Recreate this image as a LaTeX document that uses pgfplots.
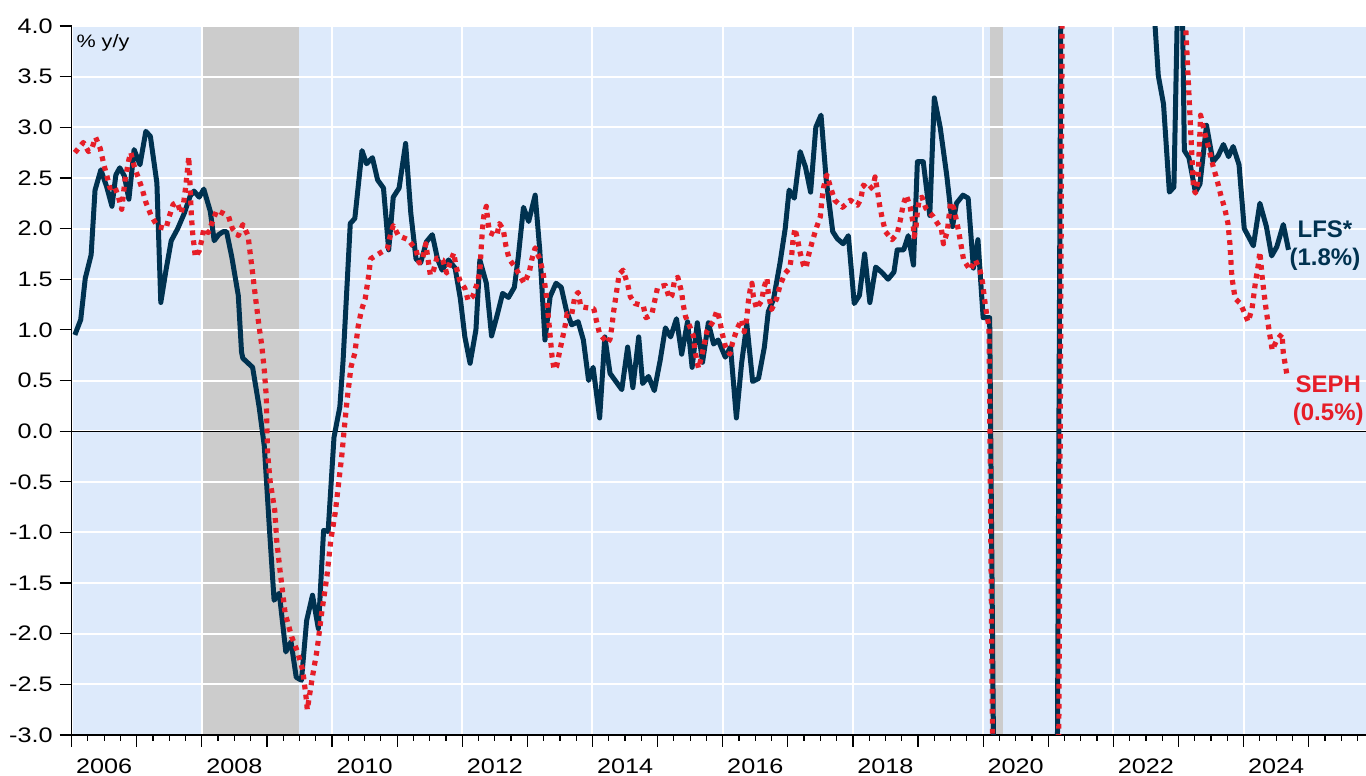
\documentclass[border=0pt]{standalone}
\usepackage{fontspec}
\setmainfont{Liberation Sans}
\usepackage{graphicx}
\usepackage{pgfplots}
\pgfplotsset{compat=1.18}
\definecolor{bgblue}{RGB}{221,234,251}
\definecolor{recgray}{RGB}{204,204,204}
\definecolor{navy}{RGB}{0,50,80}
\definecolor{sephred}{RGB}{230,30,40}
\newcommand{\sx}{1.2}
\begin{document}
\begin{tikzpicture}
\begin{axis}[
  set layers,
  scale only axis, width=647.2pt, height=354.5pt,
  xmin=2006, xmax=2025.88, ymin=-3, ymax=4,
  axis x line*=bottom, axis y line*=left,
  axis line style={black, line width=0.9pt},
  clip mode=individual,
  xtick={2006,2008,...,2024},
  minor xtick={2006,2006.25,...,2025.8},
  extra x ticks={2007,2009,...,2025},
  extra x tick labels={},
  extra x tick style={grid=none},
  ytick={-3,-2.5,...,4},
  xmajorgrids, ymajorgrids,
  major grid style={white, line width=1pt},
  tick align=outside,
  major tick length=6pt, minor tick length=3pt,
  tick style={black, line width=0.6pt},
  /pgf/number format/assume math mode=true,
  tick label style={font=\fontsize{10.5}{12}\selectfont, text=black},
  xticklabel={\scalebox{\sx}[1]{\pgfmathprintnumber[int detect,1000 sep={}]{\tick}}},
  yticklabel={\scalebox{\sx}[1]{\pgfmathprintnumber[fixed,fixed zerofill,precision=1]{\tick}}},
  xticklabel style={xshift=16.28pt, yshift=-2.5pt},
]
% background and recession shading
\addplot[on layer=axis background, draw=none, fill=bgblue] coordinates {(2006,-3) (2006,4) (2025.88,4) (2025.88,-3)} -- cycle;
\addplot[on layer=axis background, draw=none, fill=recgray] coordinates {(2008.0,-3) (2008.0,4) (2009.49,4) (2009.49,-3)} -- cycle;
\addplot[on layer=axis background, draw=none, fill=recgray] coordinates {(2020.10,-3) (2020.10,4) (2020.30,4) (2020.30,-3)} -- cycle;
\draw[black, line width=0.6pt] (axis cs:2006,0) -- (axis cs:2025.88,0);

% LFS*
\addplot[navy, line width=2.5pt, line join=round] coordinates {
(2006.05,0.95) (2006.14,1.10) (2006.21,1.51) (2006.30,1.74) (2006.36,2.38) (2006.45,2.58)
(2006.54,2.41) (2006.62,2.22) (2006.68,2.53) (2006.74,2.60) (2006.81,2.52) (2006.88,2.29)
(2006.96,2.78) (2007.05,2.63) (2007.14,2.96) (2007.21,2.91) (2007.31,2.45) (2007.37,1.27)
(2007.45,1.59) (2007.53,1.88) (2007.63,2.00) (2007.73,2.15) (2007.82,2.32) (2007.88,2.37)
(2007.96,2.31) (2008.03,2.39) (2008.13,2.17) (2008.19,1.88) (2008.26,1.94) (2008.33,1.97)
(2008.38,1.97) (2008.46,1.72) (2008.56,1.34) (2008.61,0.78) (2008.63,0.72) (2008.78,0.63)
(2008.88,0.24) (2008.96,-0.15) (2009.04,-0.98) (2009.11,-1.67) (2009.19,-1.60) (2009.29,-2.18)
(2009.37,-2.08) (2009.45,-2.43) (2009.53,-2.46) (2009.61,-1.87) (2009.70,-1.62) (2009.79,-1.95)
(2009.87,-0.98) (2009.94,-0.99) (2010.03,-0.06) (2010.12,0.24) (2010.17,0.70) (2010.28,2.05)
(2010.35,2.10) (2010.46,2.77) (2010.53,2.64) (2010.62,2.70) (2010.70,2.48) (2010.79,2.40)
(2010.87,1.79) (2010.94,2.31) (2011.03,2.40) (2011.13,2.84) (2011.21,2.15) (2011.29,1.70)
(2011.36,1.66) (2011.45,1.87) (2011.54,1.94) (2011.62,1.70) (2011.69,1.59) (2011.79,1.69)
(2011.89,1.61) (2011.97,1.31) (2012.04,0.93) (2012.12,0.67) (2012.21,1.00) (2012.27,1.69)
(2012.37,1.46) (2012.45,0.94) (2012.53,1.13) (2012.62,1.36) (2012.71,1.32) (2012.80,1.42)
(2012.86,1.72) (2012.94,2.21) (2013.02,2.07) (2013.12,2.33) (2013.19,1.79) (2013.27,0.90)
(2013.35,1.33) (2013.44,1.46) (2013.52,1.42) (2013.60,1.19) (2013.68,1.05) (2013.78,1.08)
(2013.86,0.90) (2013.94,0.50) (2014.01,0.63) (2014.11,0.13) (2014.19,0.93) (2014.27,0.57)
(2014.36,0.49) (2014.45,0.41) (2014.54,0.83) (2014.62,0.43) (2014.71,0.93) (2014.77,0.47)
(2014.86,0.54) (2014.95,0.40) (2015.04,0.70) (2015.12,1.02) (2015.20,0.93) (2015.29,1.11)
(2015.37,0.76) (2015.46,1.08) (2015.53,0.63) (2015.61,1.07) (2015.69,0.68) (2015.78,1.07)
(2015.86,0.86) (2015.93,0.90) (2016.04,0.73) (2016.12,0.83) (2016.21,0.13) (2016.29,0.67)
(2016.37,1.06) (2016.46,0.49) (2016.55,0.52) (2016.64,0.83) (2016.70,1.18) (2016.78,1.30)
(2016.88,1.66) (2016.96,2.00) (2017.02,2.38) (2017.10,2.30) (2017.19,2.76) (2017.27,2.61)
(2017.35,2.36) (2017.43,3.00) (2017.51,3.12) (2017.59,2.48) (2017.69,1.97) (2017.76,1.90)
(2017.85,1.85) (2017.93,1.93) (2018.02,1.26) (2018.10,1.34) (2018.18,1.75) (2018.26,1.27)
(2018.35,1.62) (2018.44,1.57) (2018.54,1.50) (2018.63,1.57) (2018.68,1.79) (2018.78,1.79)
(2018.85,1.93) (2018.93,1.64) (2018.99,2.66) (2019.08,2.66) (2019.18,2.13) (2019.25,3.29)
(2019.34,3.00) (2019.44,2.53) (2019.53,2.02) (2019.59,2.25) (2019.69,2.33) (2019.77,2.30)
(2019.85,1.61) (2019.92,1.89) (2020.00,1.12) (2020.10,1.12) (2020.18,-4.6) (2020.26,-15.5)
(2020.35,-13.5) (2020.43,-10.0) (2020.52,-8.0) (2020.60,-7.0) (2020.68,-6.0) (2020.77,-5.0)
(2020.85,-4.5) (2020.93,-4.5) (2021.02,-5.0) (2021.12,-6.0) (2021.21,6.5) (2021.29,15.0)
(2021.37,12.0) (2021.46,9.0) (2021.54,7.5) (2021.62,6.5) (2021.71,6.0) (2021.79,5.8)
(2021.87,5.8) (2021.96,5.2) (2022.04,5.0) (2022.12,6.0) (2022.21,5.6) (2022.29,5.2)
(2022.37,4.8) (2022.46,4.6) (2022.58,4.6) (2022.69,3.51) (2022.77,3.23) (2022.86,2.36)
(2022.93,2.41) (2023.00,4.70) (2023.05,4.70) (2023.09,2.77) (2023.16,2.70) (2023.26,2.36)
(2023.33,2.44) (2023.43,3.02) (2023.53,2.66) (2023.61,2.72) (2023.69,2.83) (2023.77,2.71)
(2023.84,2.81) (2023.93,2.63) (2024.01,2.00) (2024.15,1.83) (2024.25,2.25) (2024.35,2.02)
(2024.43,1.73) (2024.51,1.82) (2024.61,2.04) (2024.69,1.79)
};

% SEPH
\addplot[sephred, line width=2.6pt, line join=round, dash pattern=on 2.4pt off 2.6pt] coordinates {
(2006.05,2.75) (2006.18,2.85) (2006.26,2.76) (2006.31,2.79) (2006.37,2.90) (2006.44,2.79)
(2006.50,2.62) (2006.55,2.50) (2006.59,2.40) (2006.66,2.42) (2006.72,2.31) (2006.77,2.19)
(2006.82,2.48) (2006.88,2.68) (2006.91,2.75) (2006.96,2.62) (2007.02,2.51) (2007.08,2.40)
(2007.14,2.26) (2007.22,2.13) (2007.32,2.02) (2007.45,2.00) (2007.50,2.12) (2007.56,2.24)
(2007.62,2.26) (2007.68,2.15) (2007.72,2.25) (2007.75,2.40) (2007.78,2.58) (2007.80,2.71)
(2007.82,2.42) (2007.84,2.12) (2007.86,1.95) (2007.90,1.72) (2007.96,1.78) (2008.00,1.89)
(2008.03,2.00) (2008.10,1.96) (2008.17,2.08) (2008.23,2.18) (2008.33,2.15) (2008.41,2.12)
(2008.47,2.00) (2008.56,1.93) (2008.63,2.04) (2008.71,1.93) (2008.74,1.77) (2008.78,1.56)
(2008.83,1.29) (2008.88,1.03) (2008.92,0.85) (2008.96,0.60) (2008.99,0.34) (2009.01,-0.22)
(2009.05,-0.50) (2009.12,-0.78) (2009.15,-1.08) (2009.20,-1.37) (2009.28,-1.80) (2009.38,-2.03)
(2009.47,-2.18) (2009.55,-2.36) (2009.60,-2.62) (2009.62,-2.75) (2009.69,-2.46) (2009.77,-2.16)
(2009.84,-1.80) (2009.92,-1.44) (2009.98,-1.08) (2010.05,-0.80) (2010.10,-0.52) (2010.15,-0.24)
(2010.19,0.04) (2010.23,0.30) (2010.29,0.63) (2010.35,0.77) (2010.40,1.03) (2010.45,1.19)
(2010.51,1.31) (2010.54,1.44) (2010.57,1.57) (2010.59,1.70) (2010.74,1.76) (2010.85,1.80)
(2010.89,1.92) (2010.94,2.03) (2011.02,1.93) (2011.17,1.89) (2011.29,1.79) (2011.34,1.66)
(2011.39,1.70) (2011.44,1.85) (2011.48,1.67) (2011.51,1.54) (2011.56,1.59) (2011.61,1.71)
(2011.70,1.69) (2011.76,1.56) (2011.81,1.66) (2011.87,1.76) (2011.90,1.64) (2011.96,1.49)
(2012.04,1.41) (2012.09,1.29) (2012.16,1.33) (2012.22,1.44) (2012.27,1.57) (2012.29,1.80)
(2012.31,1.99) (2012.33,2.12) (2012.37,2.22) (2012.39,2.09) (2012.42,1.96) (2012.53,1.93)
(2012.57,2.05) (2012.63,1.99) (2012.67,1.83) (2012.72,1.70) (2012.81,1.62) (2012.88,1.54)
(2012.95,1.46) (2013.03,1.57) (2013.07,1.70) (2013.12,1.81) (2013.19,1.70) (2013.24,1.57)
(2013.27,1.44) (2013.30,1.29) (2013.32,1.14) (2013.34,1.01) (2013.36,0.87) (2013.38,0.73)
(2013.41,0.61) (2013.45,0.64) (2013.49,0.77) (2013.54,0.92) (2013.58,1.04) (2013.61,1.16)
(2013.68,1.15) (2013.73,1.33) (2013.78,1.37) (2013.82,1.23) (2013.90,1.22) (2014.02,1.21)
(2014.06,1.09) (2014.11,0.96) (2014.23,0.87) (2014.27,0.91) (2014.30,1.04) (2014.32,1.16)
(2014.35,1.29) (2014.38,1.42) (2014.41,1.55) (2014.47,1.59) (2014.54,1.45) (2014.58,1.33)
(2014.65,1.26) (2014.78,1.24) (2014.82,1.12) (2014.91,1.15) (2014.96,1.30) (2015.00,1.42)
(2015.12,1.44) (2015.18,1.31) (2015.22,1.34) (2015.26,1.49) (2015.31,1.52) (2015.37,1.37)
(2015.39,1.26) (2015.43,1.13) (2015.49,1.04) (2015.55,0.94) (2015.57,0.81) (2015.61,0.67)
(2015.63,0.62) (2015.68,0.75) (2015.72,0.87) (2015.76,0.99) (2015.86,1.09) (2015.91,1.19)
(2015.95,1.11) (2015.99,0.97) (2016.04,0.84) (2016.11,0.76) (2016.15,0.87) (2016.22,1.01)
(2016.29,1.10) (2016.33,0.98) (2016.37,1.11) (2016.39,1.26) (2016.42,1.39) (2016.45,1.46)
(2016.47,1.33) (2016.52,1.21) (2016.60,1.29) (2016.63,1.41) (2016.68,1.51) (2016.70,1.36)
(2016.75,1.20) (2016.83,1.31) (2016.88,1.44) (2016.96,1.56) (2017.03,1.61) (2017.06,1.74)
(2017.08,1.89) (2017.11,2.00) (2017.15,1.89) (2017.19,1.76) (2017.24,1.64) (2017.28,1.61)
(2017.32,1.74) (2017.37,1.86) (2017.43,1.99) (2017.50,2.12) (2017.52,2.26) (2017.55,2.41)
(2017.60,2.53) (2017.66,2.40) (2017.72,2.28) (2017.84,2.21) (2017.96,2.28) (2018.07,2.23)
(2018.12,2.29) (2018.16,2.43) (2018.24,2.38) (2018.31,2.42) (2018.34,2.51) (2018.38,2.36)
(2018.41,2.23) (2018.45,2.10) (2018.50,1.97) (2018.60,1.89) (2018.68,1.95) (2018.73,2.09)
(2018.77,2.23) (2018.82,2.33) (2018.88,2.21) (2018.92,2.07) (2018.94,1.92) (2018.97,2.02)
(2018.99,2.17) (2019.02,2.29) (2019.06,2.31) (2019.12,2.20) (2019.23,2.12) (2019.36,1.99)
(2019.39,1.85) (2019.45,1.97) (2019.47,2.09) (2019.50,2.26) (2019.55,2.20) (2019.59,2.08)
(2019.63,1.95) (2019.70,1.69) (2019.80,1.59) (2019.88,1.69) (2019.95,1.59) (2019.99,1.47)
(2020.02,1.31) (2020.05,1.17) (2020.09,1.03) (2020.17,-5.0) (2020.25,-16.0) (2020.33,-14.0)
(2020.42,-11.0) (2020.50,-9.0) (2020.58,-7.5) (2020.67,-6.5) (2020.75,-6.0) (2020.83,-5.5)
(2020.92,-5.5) (2021.00,-5.5) (2021.08,-5.8) (2021.14,-6.0) (2021.235,7.0) (2021.32,16.0)
(2021.40,13.0) (2021.50,10.0) (2021.58,8.0) (2021.67,7.0) (2021.75,6.5) (2021.83,6.0)
(2021.92,5.8) (2022.00,5.5) (2022.08,5.5) (2022.17,5.5) (2022.25,5.2) (2022.33,5.0)
(2022.42,4.8) (2022.50,4.7) (2022.58,4.6) (2022.67,4.6) (2022.75,4.6) (2022.83,4.6)
(2022.92,4.5) (2023.00,4.5) (2023.08,4.4) (2023.23,2.40) (2023.26,2.35) (2023.30,2.48)
(2023.34,3.12) (2023.40,2.95) (2023.47,2.78) (2023.53,2.62) (2023.60,2.46) (2023.65,2.33)
(2023.71,2.20) (2023.76,2.05) (2023.79,1.85) (2023.82,1.52) (2023.87,1.31) (2023.95,1.26)
(2024.02,1.16) (2024.07,1.08) (2024.13,1.21) (2024.18,1.46) (2024.23,1.66) (2024.25,1.77)
(2024.29,1.49) (2024.34,1.23) (2024.39,1.00) (2024.44,0.80) (2024.51,0.90) (2024.59,0.96)
(2024.61,0.77) (2024.67,0.54)
};

\node[anchor=base west, inner sep=0pt, font=\fontsize{9}{11}\selectfont] at (axis cs:2006.07,3.79) {\scalebox{\sx}[1]{\% y/y}};
\node[text=navy, font=\bfseries\fontsize{12}{14}\selectfont] at (axis cs:2025.25,1.99) {LFS*};
\node[text=navy, font=\bfseries\fontsize{12}{14}\selectfont] at (axis cs:2025.25,1.70) {(1.8\%)};
\node[text=sephred, font=\bfseries\fontsize{12}{14}\selectfont] at (axis cs:2025.30,0.46) {SEPH};
\node[text=sephred, font=\bfseries\fontsize{12}{14}\selectfont] at (axis cs:2025.30,0.17) {(0.5\%)};
\end{axis}
\pgfresetboundingbox
\path[use as bounding box] (-35.8pt,-20.5pt) rectangle (647.2pt,367.5pt);
\end{tikzpicture}
\end{document}
